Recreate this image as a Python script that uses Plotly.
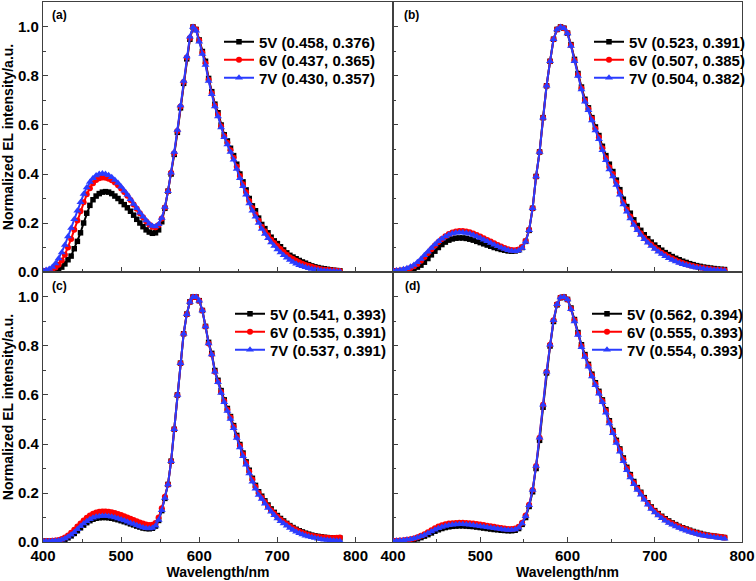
import plotly.graph_objects as go

# Wavelength grid (nm), sampled every 4 nm
WAVELENGTH = list(range(400, 784, 4))

# ---- panel (a) ----
A_5V = [0.003, 0.003, 0.004, 0.005, 0.008, 0.012, 0.02, 0.033, 0.05, 0.065,
        0.095, 0.125, 0.16, 0.2, 0.24, 0.272, 0.295, 0.31, 0.32, 0.326,
        0.328, 0.326, 0.32, 0.31, 0.3, 0.288, 0.275, 0.262, 0.248, 0.232,
        0.215, 0.2, 0.185, 0.172, 0.163, 0.158, 0.16, 0.172, 0.205, 0.26,
        0.33, 0.40, 0.48, 0.57, 0.67, 0.77, 0.87, 0.95, 1.0, 0.99,
        0.947, 0.90, 0.86, 0.79, 0.736, 0.685, 0.65, 0.60, 0.56, 0.535,
        0.505, 0.475, 0.44, 0.40, 0.368, 0.335, 0.30, 0.27, 0.25, 0.22,
        0.194, 0.177, 0.16, 0.142, 0.127, 0.116, 0.103, 0.09, 0.078, 0.068,
        0.061, 0.054, 0.047, 0.041, 0.036, 0.03, 0.025, 0.021, 0.018, 0.015,
        0.013, 0.011, 0.009, 0.007, 0.006, 0.005]
A_6V = [0.004, 0.005, 0.007, 0.011, 0.018, 0.03, 0.047, 0.07, 0.1, 0.135,
        0.172, 0.21, 0.248, 0.285, 0.317, 0.342, 0.362, 0.375, 0.383, 0.386,
        0.385, 0.381, 0.374, 0.365, 0.354, 0.341, 0.327, 0.311, 0.294, 0.276,
        0.258, 0.24, 0.223, 0.207, 0.194, 0.185, 0.183, 0.192, 0.218, 0.263,
        0.33, 0.405, 0.485, 0.575, 0.675, 0.775, 0.875, 0.955, 1.0, 0.99,
        0.945, 0.895, 0.852, 0.785, 0.73, 0.68, 0.643, 0.595, 0.555, 0.528,
        0.497, 0.466, 0.43, 0.392, 0.358, 0.325, 0.29, 0.261, 0.236, 0.21,
        0.185, 0.166, 0.15, 0.133, 0.118, 0.106, 0.094, 0.082, 0.07, 0.06,
        0.053, 0.046, 0.04, 0.034, 0.029, 0.025, 0.021, 0.017, 0.014, 0.011,
        0.009, 0.008, 0.007, 0.006, 0.005, 0.004]
A_7V = [0.005, 0.008, 0.012, 0.02, 0.035, 0.055, 0.08, 0.11, 0.145, 0.18,
        0.215, 0.25, 0.285, 0.318, 0.345, 0.367, 0.383, 0.394, 0.4, 0.402,
        0.4, 0.395, 0.387, 0.376, 0.363, 0.348, 0.332, 0.315, 0.297, 0.278,
        0.26, 0.242, 0.225, 0.21, 0.197, 0.188, 0.186, 0.195, 0.22, 0.265,
        0.33, 0.405, 0.49, 0.58, 0.68, 0.78, 0.88, 0.96, 1.0, 0.985,
        0.94, 0.89, 0.845, 0.78, 0.725, 0.675, 0.635, 0.59, 0.55, 0.52,
        0.49, 0.458, 0.42, 0.383, 0.35, 0.315, 0.28, 0.25, 0.225, 0.2,
        0.175, 0.155, 0.138, 0.12, 0.106, 0.092, 0.08, 0.068, 0.058, 0.049,
        0.041, 0.034, 0.028, 0.023, 0.019, 0.015, 0.012, 0.01, 0.008, 0.006,
        0.005, 0.004, 0.003, 0.003, 0.002, 0.002]

# ---- panel (b) ----
B_5V = [0.004, 0.004, 0.005, 0.006, 0.007, 0.009, 0.013, 0.02, 0.028, 0.04,
        0.055, 0.07, 0.085, 0.1, 0.112, 0.122, 0.13, 0.135, 0.138, 0.139,
        0.139, 0.137, 0.134, 0.13, 0.125, 0.12, 0.115, 0.11, 0.105, 0.1,
        0.096, 0.092, 0.089, 0.086, 0.085, 0.086, 0.09, 0.1, 0.125, 0.17,
        0.26, 0.39, 0.49, 0.63, 0.76, 0.86, 0.95, 0.99, 1.0, 0.995,
        0.975, 0.928, 0.868, 0.81, 0.755, 0.705, 0.67, 0.63, 0.592, 0.557,
        0.513, 0.475, 0.44, 0.41, 0.375, 0.336, 0.297, 0.267, 0.24, 0.213,
        0.19, 0.17, 0.152, 0.136, 0.122, 0.11, 0.099, 0.089, 0.079, 0.071,
        0.063, 0.056, 0.05, 0.044, 0.039, 0.034, 0.03, 0.026, 0.023, 0.02,
        0.018, 0.016, 0.014, 0.012, 0.011, 0.01]
B_6V = [0.004, 0.005, 0.006, 0.008, 0.011, 0.016, 0.023, 0.033, 0.046, 0.061,
        0.077, 0.093, 0.108, 0.122, 0.135, 0.146, 0.155, 0.161, 0.165, 0.167,
        0.167, 0.165, 0.162, 0.157, 0.151, 0.145, 0.138, 0.131, 0.124, 0.117,
        0.11, 0.104, 0.098, 0.093, 0.09, 0.089, 0.092, 0.102, 0.127, 0.172,
        0.26, 0.39, 0.49, 0.63, 0.76, 0.86, 0.95, 0.99, 1.0, 0.995,
        0.975, 0.925, 0.864, 0.805, 0.75, 0.70, 0.665, 0.625, 0.585, 0.55,
        0.505, 0.465, 0.428, 0.40, 0.365, 0.325, 0.285, 0.255, 0.227, 0.2,
        0.177, 0.158, 0.141, 0.126, 0.112, 0.1, 0.089, 0.079, 0.07, 0.062,
        0.055, 0.048, 0.042, 0.037, 0.032, 0.028, 0.024, 0.021, 0.018, 0.016,
        0.014, 0.012, 0.01, 0.009, 0.008, 0.007]
B_7V = [0.005, 0.006, 0.008, 0.011, 0.015, 0.021, 0.029, 0.04, 0.053, 0.068,
        0.083, 0.098, 0.112, 0.125, 0.136, 0.145, 0.152, 0.157, 0.16, 0.161,
        0.161, 0.159, 0.156, 0.151, 0.145, 0.139, 0.132, 0.125, 0.118, 0.111,
        0.105, 0.099, 0.094, 0.089, 0.086, 0.085, 0.088, 0.098, 0.123, 0.17,
        0.26, 0.39, 0.49, 0.63, 0.76, 0.86, 0.95, 0.99, 1.0, 0.995,
        0.973, 0.922, 0.86, 0.80, 0.745, 0.695, 0.66, 0.618, 0.578, 0.542,
        0.497, 0.456, 0.418, 0.39, 0.355, 0.315, 0.276, 0.246, 0.218, 0.192,
        0.17, 0.151, 0.134, 0.119, 0.106, 0.094, 0.083, 0.073, 0.064, 0.056,
        0.049, 0.043, 0.037, 0.032, 0.028, 0.024, 0.02, 0.017, 0.015, 0.013,
        0.011, 0.009, 0.008, 0.007, 0.006, 0.005]

# ---- panel (c) ----
C_5V = [0.003, 0.003, 0.003, 0.003, 0.004, 0.005, 0.007, 0.011, 0.017, 0.025,
        0.035, 0.046, 0.058, 0.069, 0.079, 0.087, 0.093, 0.097, 0.099, 0.1,
        0.1, 0.099, 0.097, 0.094, 0.091, 0.087, 0.083, 0.079, 0.074, 0.07,
        0.065, 0.061, 0.057, 0.055, 0.054, 0.056, 0.065, 0.088, 0.128, 0.178,
        0.235, 0.33, 0.46, 0.6, 0.73, 0.85, 0.93, 0.98, 1.0, 1.0,
        0.985, 0.945, 0.88, 0.815, 0.77, 0.7, 0.66, 0.618, 0.58, 0.545,
        0.512, 0.475, 0.435, 0.398, 0.363, 0.327, 0.293, 0.26, 0.231, 0.205,
        0.187, 0.168, 0.151, 0.135, 0.121, 0.108, 0.096, 0.086, 0.076, 0.067,
        0.059, 0.052, 0.046, 0.041, 0.036, 0.032, 0.028, 0.025, 0.023, 0.021,
        0.019, 0.018, 0.017, 0.016, 0.016, 0.016]
C_6V = [0.003, 0.003, 0.004, 0.005, 0.006, 0.008, 0.012, 0.018, 0.027, 0.038,
        0.05, 0.063, 0.076, 0.088, 0.099, 0.108, 0.115, 0.12, 0.123, 0.124,
        0.124, 0.123, 0.121, 0.118, 0.114, 0.11, 0.105, 0.1, 0.095, 0.09,
        0.085, 0.08, 0.075, 0.071, 0.069, 0.07, 0.078, 0.1, 0.138, 0.185,
        0.235, 0.33, 0.46, 0.6, 0.73, 0.85, 0.93, 0.98, 1.0, 1.0,
        0.985, 0.945, 0.88, 0.81, 0.765, 0.695, 0.655, 0.612, 0.575, 0.54,
        0.508, 0.47, 0.43, 0.393, 0.358, 0.322, 0.288, 0.255, 0.226, 0.2,
        0.182, 0.163, 0.146, 0.13, 0.116, 0.103, 0.092, 0.082, 0.073, 0.064,
        0.056, 0.049, 0.043, 0.038, 0.033, 0.029, 0.026, 0.023, 0.021, 0.019,
        0.018, 0.017, 0.016, 0.016, 0.017, 0.018]
C_7V = [0.003, 0.003, 0.003, 0.004, 0.005, 0.006, 0.009, 0.014, 0.021, 0.03,
        0.04, 0.052, 0.064, 0.075, 0.085, 0.093, 0.099, 0.103, 0.105, 0.106,
        0.106, 0.105, 0.103, 0.1, 0.096, 0.092, 0.088, 0.083, 0.078, 0.073,
        0.068, 0.063, 0.059, 0.056, 0.055, 0.057, 0.066, 0.09, 0.13, 0.18,
        0.235, 0.33, 0.46, 0.6, 0.73, 0.85, 0.93, 0.98, 1.0, 1.0,
        0.985, 0.945, 0.88, 0.81, 0.765, 0.695, 0.652, 0.608, 0.57, 0.535,
        0.502, 0.464, 0.424, 0.386, 0.35, 0.315, 0.28, 0.246, 0.217, 0.192,
        0.175, 0.156, 0.139, 0.123, 0.109, 0.096, 0.085, 0.075, 0.066, 0.057,
        0.049, 0.042, 0.036, 0.031, 0.026, 0.022, 0.019, 0.016, 0.013, 0.011,
        0.009, 0.008, 0.007, 0.006, 0.005, 0.004]

# ---- panel (d) ----
D_5V = [0.003, 0.003, 0.004, 0.005, 0.006, 0.007, 0.01, 0.013, 0.018, 0.024,
        0.03, 0.037, 0.044, 0.05, 0.055, 0.059, 0.062, 0.064, 0.065, 0.066,
        0.066, 0.065, 0.064, 0.063, 0.061, 0.059, 0.057, 0.055, 0.053, 0.051,
        0.05, 0.048, 0.047, 0.046, 0.046, 0.048, 0.055, 0.072, 0.1, 0.145,
        0.205, 0.3, 0.415, 0.55, 0.69, 0.8, 0.9, 0.968, 0.997, 1.0,
        0.99, 0.955, 0.908, 0.855, 0.805, 0.765, 0.725, 0.685, 0.65, 0.615,
        0.58, 0.54, 0.495, 0.455, 0.415, 0.38, 0.343, 0.305, 0.275, 0.247,
        0.222, 0.203, 0.181, 0.16, 0.143, 0.128, 0.116, 0.105, 0.095, 0.086,
        0.078, 0.071, 0.064, 0.058, 0.053, 0.048, 0.043, 0.039, 0.035, 0.031,
        0.028, 0.026, 0.024, 0.022, 0.02, 0.018]
D_6V = [0.004, 0.005, 0.006, 0.007, 0.009, 0.011, 0.014, 0.019, 0.025, 0.032,
        0.04, 0.048, 0.056, 0.063, 0.068, 0.072, 0.075, 0.077, 0.078, 0.079,
        0.079, 0.078, 0.077, 0.075, 0.073, 0.071, 0.069, 0.066, 0.064, 0.062,
        0.059, 0.057, 0.055, 0.053, 0.053, 0.055, 0.062, 0.079, 0.108, 0.152,
        0.212, 0.31, 0.425, 0.56, 0.695, 0.805, 0.905, 0.97, 0.998, 1.0,
        0.99, 0.952, 0.905, 0.85, 0.8, 0.76, 0.72, 0.68, 0.645, 0.61,
        0.575, 0.535, 0.49, 0.45, 0.41, 0.375, 0.338, 0.3, 0.27, 0.242,
        0.218, 0.2, 0.178, 0.157, 0.14, 0.125, 0.113, 0.102, 0.092, 0.083,
        0.075, 0.068, 0.062, 0.056, 0.051, 0.046, 0.041, 0.037, 0.033, 0.03,
        0.027, 0.025, 0.023, 0.022, 0.02, 0.018]
D_7V = [0.004, 0.005, 0.006, 0.007, 0.009, 0.011, 0.014, 0.018, 0.023, 0.029,
        0.036, 0.043, 0.05, 0.056, 0.061, 0.065, 0.068, 0.07, 0.071, 0.072,
        0.072, 0.071, 0.07, 0.068, 0.066, 0.064, 0.062, 0.06, 0.058, 0.056,
        0.054, 0.052, 0.05, 0.049, 0.049, 0.051, 0.058, 0.075, 0.105, 0.15,
        0.212, 0.31, 0.425, 0.56, 0.695, 0.805, 0.905, 0.97, 0.998, 1.0,
        0.99, 0.95, 0.9, 0.845, 0.795, 0.755, 0.715, 0.675, 0.64, 0.605,
        0.57, 0.528, 0.484, 0.444, 0.404, 0.368, 0.33, 0.293, 0.263, 0.236,
        0.212, 0.193, 0.172, 0.152, 0.135, 0.12, 0.108, 0.097, 0.087, 0.078,
        0.07, 0.063, 0.057, 0.051, 0.046, 0.041, 0.037, 0.033, 0.029, 0.026,
        0.023, 0.021, 0.019, 0.017, 0.015, 0.013]

PANELS = ["(a)", "(b)", "(c)", "(d)"]
VOLTAGES = ["5V", "6V", "7V"]
CIE = {
    "(a)": ["(0.458, 0.376)", "(0.437, 0.365)", "(0.430, 0.357)"],
    "(b)": ["(0.523, 0.391)", "(0.507, 0.385)", "(0.504, 0.382)"],
    "(c)": ["(0.541, 0.393)", "(0.535, 0.391)", "(0.537, 0.391)"],
    "(d)": ["(0.562, 0.394)", "(0.555, 0.393)", "(0.554, 0.393)"],
}
SERIES = {
    "(a)": [A_5V, A_6V, A_7V],
    "(b)": [B_5V, B_6V, B_7V],
    "(c)": [C_5V, C_6V, C_7V],
    "(d)": [D_5V, D_6V, D_7V],
}
X_LABEL = "Wavelength/nm"
Y_LABEL = "Normalized EL intensity/a.u."

COLORS = ["#000000", "#ff0000", "#2a3cff"]
SYMBOLS = ["square", "circle", "triangle-up"]
MSIZES = [5.5, 6, 7]

FONT = "Liberation Sans, Arial, sans-serif"
FRAME = "#404040"

# figure geometry (px)
W, H = 756, 581
ML, MR, MT, MB = 43, 14, 2, 39
PW, PH = W - ML - MR, H - MT - MB


def px_x(px):
    return (px - ML) / PW


def px_y(py):
    return (H - MB - py) / PH


fig = go.Figure()

axis_ids = ["", "2", "3", "4"]
# legend anchor per panel: left edge (px) and row centres (px)
legend_left = [219, 589, 230, 587]
legend_rows = [[42, 60, 78], [42, 60, 78], [314, 332, 350], [314, 332, 350]]

layout = dict(
    width=W, height=H,
    margin=dict(l=ML, r=MR, t=MT, b=MB),
    paper_bgcolor="white", plot_bgcolor="white",
    font=dict(family=FONT, color="black"),
    showlegend=True,
)

n = 0
for p, panel in enumerate(PANELS):
    for k in range(3):
        n += 1
        lid = "legend" if n == 1 else f"legend{n}"
        fig.add_trace(go.Scatter(
            x=WAVELENGTH, y=SERIES[panel][k],
            mode="lines+markers",
            name=f"<b>{VOLTAGES[k]} {CIE[panel][k]}</b>",
            line=dict(color=COLORS[k], width=2),
            marker=dict(symbol=SYMBOLS[k], size=MSIZES[k], color=COLORS[k],
                        line=dict(width=0)),
            xaxis="x" + axis_ids[p], yaxis="y" + axis_ids[p],
            legend=lid,
        ))
        layout[lid] = dict(
            x=px_x(legend_left[p]), y=px_y(legend_rows[p][k]),
            xanchor="left", yanchor="middle",
            bgcolor="rgba(0,0,0,0)", borderwidth=0,
            font=dict(family=FONT, size=15, color="black"),
            itemwidth=30,
        )

XSPLIT = 350 / 699
x_domains = [[0, XSPLIT], [XSPLIT, 1], [0, XSPLIT], [XSPLIT, 1]]
y_domains = [[0.5, 1], [0.5, 1], [0, 0.5], [0, 0.5]]
x_ranges = [[400, 848], [400, 800], [400, 848], [400, 800]]

tickfont = dict(family=FONT, size=15, color="black")

for p in range(4):
    ax = dict(
        domain=x_domains[p], range=x_ranges[p],
        anchor="y" + axis_ids[p],
        showgrid=False, zeroline=False,
        showline=True, mirror=True, linecolor=FRAME, linewidth=1.3,
        ticks="inside", ticklen=5, tickwidth=1.2, tickcolor=FRAME,
        dtick=100, tick0=400,
        minor=dict(ticks="inside", ticklen=3, dtick=50, tickcolor=FRAME, tickwidth=1),
        tickfont=tickfont, tickprefix="<b>", ticksuffix="</b>",
        showticklabels=p >= 2,
    )
    if p >= 2:
        ax["title"] = dict(text=f"<b>{X_LABEL}</b>", font=dict(family=FONT, size=14),
                           standoff=4)
    ay = dict(
        domain=y_domains[p], range=[0, 1.102],
        anchor="x" + axis_ids[p],
        showgrid=False, zeroline=False,
        showline=True, mirror=True, linecolor=FRAME, linewidth=1.3,
        ticks="inside", ticklen=5, tickwidth=1.2, tickcolor=FRAME,
        dtick=0.2, tick0=0, tickformat=".1f",
        minor=dict(ticks="inside", ticklen=3, dtick=0.1, tickcolor=FRAME, tickwidth=1),
        tickfont=tickfont, tickprefix="<b>", ticksuffix="</b>",
        showticklabels=p in (0, 2),
    )
    if p in (0, 2):
        ay["title"] = dict(text=f"<b>{Y_LABEL}</b>", font=dict(family=FONT, size=14),
                           standoff=2)
    layout["xaxis" + axis_ids[p]] = ax
    layout["yaxis" + axis_ids[p]] = ay

ann_px = [(50, 15), (402, 15), (50, 286), (403, 286)]
annotations = []
for p, panel in enumerate(PANELS):
    annotations.append(dict(
        text=f"<b>{panel}</b>", x=px_x(ann_px[p][0]), y=px_y(ann_px[p][1]),
        xref="paper", yref="paper", xanchor="left", yanchor="middle",
        showarrow=False, font=dict(family=FONT, size=12, color="black"),
    ))
layout["annotations"] = annotations

fig.update_layout(**layout)
fig.write_html("out.html",
               config={"displayModeBar": False},
               post_script="document.body.style.margin='0px';")
